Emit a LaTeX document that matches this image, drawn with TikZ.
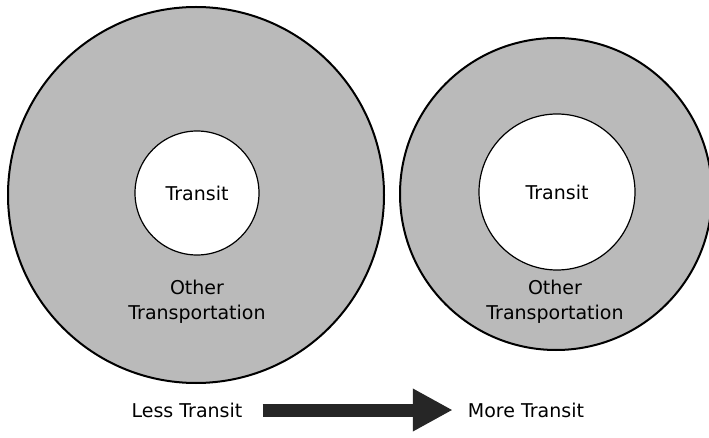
\documentclass[tikz,border=0pt]{standalone}
\usepackage{fontspec}
\setmainfont{DejaVu Sans}
\usetikzlibrary{arrows.meta}
\begin{document}
\begin{tikzpicture}[x=1pt, y=-1pt,
	ring/.style={circle, draw=black, line width=2pt, fill=black!27, inner sep=0pt},
	hole/.style={circle, draw=black, line width=1.2pt, fill=white, inner sep=0pt,
		font=\fontsize{19}{22}\selectfont},
	lbl/.style={font=\fontsize{19}{25}\selectfont, align=center, inner sep=0pt},
	fat/.style={line width=13pt, draw=black!85,
		-{Triangle[length=40pt, width=40pt]}}]
	\useasboundingbox (0,0) rectangle (709,438);
	% left: less transit
	\node[ring, minimum size=376pt] (outerA) at (196,195) {};
	\node[hole, minimum size=124pt] (innerA) at (197,193) {Transit};
	\node[lbl] (otherA) at (197,302) {Other\\Transportation};
	% right: more transit
	\node[ring, minimum size=312pt] (outerB) at (556,194) {};
	\node[hole, minimum size=156pt] (innerB) at (557,192) {Transit};
	\node[lbl] (otherB) at (555,302) {Other\\Transportation};
	% bottom
	\node[lbl] (less) at (187,410) {Less Transit};
	\node[lbl] (more) at (526,410) {More Transit};
	\draw[fat, shorten <=20pt, shorten >=15pt] (less) -- (more);
\end{tikzpicture}
\end{document}
